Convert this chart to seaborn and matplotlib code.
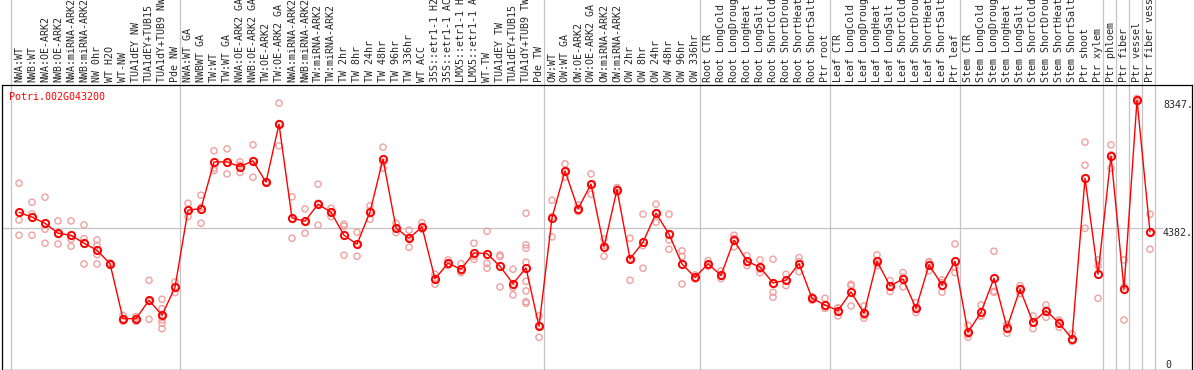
import numpy as np
import pandas as pd
import matplotlib
matplotlib.use("Agg")
import matplotlib.pyplot as plt
import seaborn as sns

gene = "Potri.002G043200"

samples = [
    # NW
    "NWA:WT", "NWB:WT", "NWA:OE-ARK2", "NWB:OE-ARK2", "NWA:miRNA-ARK2", "NWB:miRNA-ARK2",
    "NW 0hr", "WT H2O", "WT-NW", "TUA1dEY NW", "TUA1dEY+TUB15", "TUA1dY+TUB9 NW", "Pde NW",
    # TW
    "NWA:WT GA", "NWBWT GA", "TW:WT", "TW:WT GA", "NWA:OE-ARK2 GA", "NWB:OE-ARK2 GA",
    "TW:OE-ARK2", "TW:OE-ARK2 GA", "NWA:miRNA-ARK2", "NWB:miRNA-ARK2", "TW:miRNA-ARK2",
    "TW:miRNA-ARK2", "TW 2hr", "TW 8hr", "TW 24hr", "TW 48hr", "TW 96hr", "TW 336hr",
    "WT ACC", "35S::etr1-1 H2", "35S::etr1-1 AC", "LMX5::etr1-1 H", "LMX5::etr1-1 A",
    "WT-TW", "TUA1dEY TW", "TUA1dEY+TUB15", "TUA1dY+TUB9 TW", "Pde TW",
    # OW
    "OW:WT", "OW:WT GA", "OW:OE-ARK2", "OW:OE-ARK2 GA", "OW:miRNA-ARK2", "OW:miRNA-ARK2",
    "OW 2hr", "OW 8hr", "OW 24hr", "OW 48hr", "OW 96hr", "OW 336hr",
    # root
    "Root CTR", "Root LongCold", "Root LongDroug", "Root LongHeat", "Root LongSalt",
    "Root ShortCold", "Root ShortDrou", "Root ShortHeat", "Root ShortSalt", "Ptr root",
    # leaf
    "Leaf CTR", "Leaf LongCold", "Leaf LongDroug", "Leaf LongHeat", "Leaf LongSalt",
    "Leaf ShortCold", "Leaf ShortDrou", "Leaf ShortHeat", "Leaf ShortSalt", "Ptr leaf",
    # stem
    "Stem CTR", "Stem LongCold", "Stem LongDroug", "Stem LongHeat", "Stem LongSalt",
    "Stem ShortCold", "Stem ShortDrou", "Stem ShortHeat", "Stem ShortSalt", "Ptr shoot",
    "Ptr xylem",
    # xylem cell types
    "Ptr phloem", "Ptr fiber", "Ptr vessel", "Ptr fiber vess",
]

means = [
    4873, 4718, 4532, 4222, 4160, 3912, 3695, 3280, 1575, 1575, 2145, 1680, 2548,
    4935, 4985, 6432, 6432, 6287, 6463, 5803, 7601, 4696, 4594, 5121, 4873, 4160,
    3881, 4882, 6516, 4386, 4067, 4418, 2806, 3292, 3106, 3612, 3590, 3199, 2660,
    3147, 1339,
    4697, 6154, 4976, 5741, 3798, 5574, 3426, 3943, 4842, 4191, 3270, 2858,
    3270, 2920, 4005, 3354, 3168, 2682, 2765, 3280, 2207, 2000,
    1823, 2403, 1742, 3354, 2588, 2806, 1897, 3240, 2620, 3354,
    1153, 1773, 2827, 1296, 2486, 1463, 1823, 1442, 955, 5927, 2951,
    6618, 2496, 8347, 4262,
]

replicates = [
    [5772, 4634, 4160], [5183, 4820, 4160], [5338, 4346, 3912], [4603, 4180, 3890],
    [4603, 4036, 3819], [4480, 4055, 3270], [4015, 3850, 3559, 3270], [3300, 3280, 3250],
    [1680, 1494, 1560], [1640, 1494, 1590], [2765, 1556, 2114],
    [2176, 1885, 1680, 1535, 1432, 1265], [2713, 2548, 2381],
    [5152, 4737, 4935], [5400, 4532, 5023], [6774, 6237, 6163], [6835, 6060, 6400],
    [6432, 6101, 6330], [6960, 5958, 6470], [5803, 5790, 5815], [8252, 6928, 7620],
    [5348, 4067, 4670], [4976, 4222, 4590], [5741, 4470, 5150], [4997, 4737, 4880],
    [4501, 3540, 4440], [4253, 3509, 3881], [5068, 4656, 4920], [6888, 6237, 6420],
    [4532, 4241, 4386], [4315, 3788, 4100], [4552, 4346, 4356], [2951, 2641, 2826],
    [3395, 3219, 3262], [3280, 3001, 3037], [3912, 3416, 3508], [4284, 3292, 3137],
    [3550, 3497, 2558], [3106, 2536, 2310],
    [4842, 3860, 3757, 3323, 2734, 2434, 2102, 2052], [1659, 998, 1360],
    [5245, 4108, 4740], [6371, 5958, 6133], [5100, 4892, 4936], [6060, 5431, 5730],
    [4046, 3509, 3840], [5636, 5481, 5605], [4067, 2765, 3446], [4811, 3838, 3137],
    [5121, 4563, 4842], [4811, 4015, 3726], [3674, 3509, 2650], [2806, 2930, 2840],
    [3373, 3240, 3200], [3054, 2816, 2890], [4160, 4067, 3800], [3528, 3219, 3315],
    [3395, 3001, 3108], [3416, 2393, 2238], [2951, 2598, 2746], [3466, 3032, 3342],
    [2259, 2145, 2217], [2207, 1897, 1896],
    [1897, 1659, 1913], [2641, 1969, 2599], [1969, 1587, 1670], [3550, 3292, 3220],
    [2754, 2413, 2597], [3001, 2558, 2859], [2071, 1761, 1859], [3342, 3063, 3315],
    [2691, 2393, 2776], [3890, 3001, 3171],
    [1370, 998, 1091], [2000, 1668, 1651], [3664, 2424, 2393], [1122, 1400, 1366],
    [2598, 2350, 2510], [1659, 1265, 1465], [2000, 1618, 1851], [1535, 1308, 1483],
    [1101, 893, 871], [7043, 6330, 4377], [3395, 3219, 2207],
    [6960, 6237, 6657], [3395, 1535, 2558], [8400, 8300, 8341], [4811, 3726, 4249],
]

# first sample index of each block (last entry closes the final block)
group_starts = [0, 13, 41, 53, 63, 73, 84, 85, 86, 87, 88]
y_labels = [8347, 4382]

sns.set_style("white")
plt.rcParams["font.family"] = ["DejaVu Sans Mono"]
fs = 7.2
grid_c = "#c4c4c4"

pos = np.arange(len(samples))
mean_df = pd.DataFrame({"pos": pos, "value": means})
rep_df = pd.DataFrame(
    [(i, v) for i, reps in enumerate(replicates) for v in reps],
    columns=["pos", "value"],
)

W, H = 1194, 370
fig = plt.figure(figsize=(W / 100, H / 100), dpi=100)
ax = fig.add_axes([1.5 / W, 0.5 / H, 1190.5 / W, 284.5 / H])
hdr = fig.add_axes([1.5 / W, 285 / H, 1190.5 / W, 85 / H])

xlim = ((1.5 - 19) / 13, (1192 - 19) / 13)
for a in (ax, hdr):
    a.set_xlim(*xlim)
    for s in group_starts:
        a.axvline(s - 0.6, color=grid_c, lw=0.9, zorder=0)

ax.set_ylim(0, 8814)
ax.hlines(y_labels[1], xlim[0], 88.0, color=grid_c, lw=0.9, zorder=0)

sns.scatterplot(data=rep_df, x="pos", y="value", ax=ax, marker="o", s=20,
                facecolor="none", edgecolor="#f0a0a0", linewidth=1.0, zorder=2)
sns.lineplot(data=mean_df, x="pos", y="value", ax=ax, sort=False, color="red",
             linewidth=1.0, marker="o", markersize=5.2, markerfacecolor="none",
             markeredgecolor="red", markeredgewidth=1.4, zorder=3)

ax.text((9.3 - 1.5) / 1190.5, 1 - 12 / 284.5, gene, transform=ax.transAxes,
        color="red", fontsize=fs, va="center", ha="left")
for v in y_labels:
    ax.text(88.0, v, f"{v}.", fontsize=fs, va="top", ha="left")
ax.text(88.2, 0, "0", fontsize=fs, va="bottom", ha="left")

ax.set_xticks([])
ax.set_yticks([])
ax.set_xlabel("")
ax.set_ylabel("")
for sp in ax.spines.values():
    sp.set_color("black")
    sp.set_linewidth(0.9)

hdr.set_ylim(85, 0)
hdr.axis("off")
for i, name in enumerate(samples):
    hdr.text(i, 82.5, name, rotation=90, ha="center", va="bottom", fontsize=fs)

fig.savefig("out.png", dpi=100)
